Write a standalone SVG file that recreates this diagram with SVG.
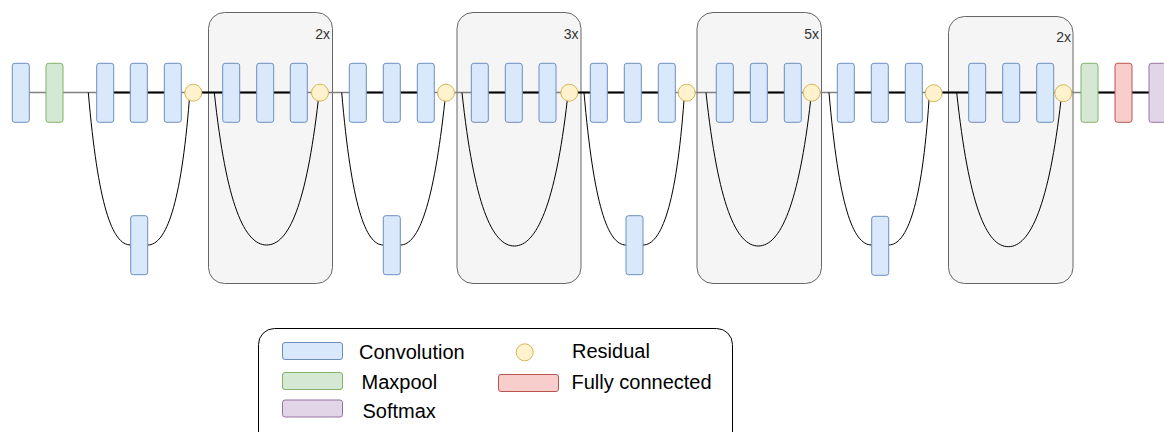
<svg xmlns="http://www.w3.org/2000/svg" width="1164" height="432" viewBox="0 0 1164 432">
<style>
.rep{fill:#f5f5f5;stroke:#666666;stroke-width:1}
.conv{fill:#dae8fc;stroke:#6c8ebf;stroke-width:1}
.pool{fill:#d5e8d4;stroke:#82b366;stroke-width:1}
.fc{fill:#f8cecc;stroke:#b85450;stroke-width:1}
.soft{fill:#e1d5e7;stroke:#9673a6;stroke-width:1}
.res{fill:#fff2cc;stroke:#d6b656;stroke-width:1}
.gray{stroke:#808080;stroke-width:1.5;fill:none}
.blk{stroke:#000000;stroke-width:2;fill:none}
.skip{stroke:#000000;stroke-width:1;fill:none}
.rt{font-family:"Liberation Sans",Arial,sans-serif;font-size:14px;fill:#333333;text-anchor:end}
.lt{font-family:"Liberation Sans",Arial,sans-serif;font-size:20px;fill:#000000}
</style>

<g id="repeat1"><rect class="rep" x="208.5" y="12.5" width="124" height="271" rx="16"/><text class="rt" x="330" y="39">2x</text></g>
<g id="repeat2"><rect class="rep" x="457" y="12.5" width="124" height="271" rx="16"/><text class="rt" x="578.5" y="39">3x</text></g>
<g id="repeat3"><rect class="rep" x="697" y="12.5" width="124.5" height="271" rx="16"/><text class="rt" x="819" y="39">5x</text></g>
<g id="repeat4"><rect class="rep" x="948.5" y="16.5" width="124.5" height="267" rx="16"/><text class="rt" x="1071" y="41.5">2x</text></g>

<g id="connectors">
<line class="gray" x1="29" y1="92.5" x2="1164" y2="92.5"/>
<path class="blk" d="M113.5,92.5H130.5M147.5,92.5H164.5M202,92.5H222.5M239.5,92.5H256.5M273.5,92.5H290.5M366.5,92.5H383.5M400.5,92.5H417.5M488.5,92.5H505.5M522.5,92.5H539M578,92.5H590.5M607.5,92.5H624.5M641.5,92.5H658.5M733.5,92.5H750.5M767.5,92.5H784.5M854.5,92.5H871.5M888.5,92.5H905.5M942,92.5H968.5M985.5,92.5H1002.5M1019.5,92.5H1036.5M1098,92.5H1115M1132,92.5H1149"/>
<path class="skip" d="M88.3,92.5C98,205 112,245 130.7,245M147.7,245C166,245 181,205 189.3,100"/>
<path class="skip" d="M341.7,92.5C351.4,205 365.4,245 383.3,245M400.3,245C418.6,245 433.6,205 445,100"/>
<path class="skip" d="M584,92.5C593.7,205 607.7,245 626,245M643,245C661.3,245 676.3,205 684,100"/>
<path class="skip" d="M829,92.5C838.7,205 852.7,245 871.7,245M888.7,245C907,245 922,205 929,100"/>
<path class="skip" d="M214.3,92.5C226.3,205 244.7,245 266.7,245C288.7,245 306.3,205 318.3,100"/>
<path class="skip" d="M462,92.5C474,205 492.3,246 514.3,246C536.3,246 555.3,205 567.3,100"/>
<path class="skip" d="M706,92.5C718,205 736.3,246 758.3,246C780.3,246 798.7,205 810.7,100"/>
<path class="skip" d="M956.7,92.5C968.7,205 986.3,246.7 1008.3,246.7C1030.3,246.7 1049,205 1061,100"/>
</g>

<g id="input-conv"><rect class="conv" x="12.3" y="63.3" width="17" height="59" rx="2.5"/></g>
<g id="maxpool1"><rect class="pool" x="46" y="63.3" width="17" height="59" rx="2.5"/></g>

<g id="stage1">
<rect class="conv" x="96.7" y="63.3" width="17" height="59" rx="2.5"/>
<rect class="conv" x="130.3" y="63.3" width="17" height="59" rx="2.5"/>
<rect class="conv" x="164.3" y="63.3" width="17" height="59" rx="2.5"/>
<rect class="conv" x="130.7" y="215.7" width="17" height="59" rx="2.5"/>
<circle class="res" cx="193.3" cy="92.7" r="8.5"/>
</g>
<g id="stage1-rep">
<rect class="conv" x="222.7" y="63.3" width="17" height="59" rx="2.5"/>
<rect class="conv" x="256.7" y="63.3" width="17" height="59" rx="2.5"/>
<rect class="conv" x="290.3" y="63.3" width="17" height="59" rx="2.5"/>
<circle class="res" cx="320" cy="92.7" r="8.5"/>
</g>

<g id="stage2">
<rect class="conv" x="349.3" y="63.3" width="17" height="59" rx="2.5"/>
<rect class="conv" x="383.3" y="63.3" width="17" height="59" rx="2.5"/>
<rect class="conv" x="417.3" y="63.3" width="17" height="59" rx="2.5"/>
<rect class="conv" x="383.3" y="215.7" width="17" height="59" rx="2.5"/>
<circle class="res" cx="446" cy="92.7" r="8.5"/>
</g>
<g id="stage2-rep">
<rect class="conv" x="471.3" y="63.3" width="17" height="59" rx="2.5"/>
<rect class="conv" x="505.3" y="63.3" width="17" height="59" rx="2.5"/>
<rect class="conv" x="539" y="63.3" width="17" height="59" rx="2.5"/>
<circle class="res" cx="569.3" cy="92.7" r="8.5"/>
</g>

<g id="stage3">
<rect class="conv" x="590.3" y="63.3" width="17" height="59" rx="2.5"/>
<rect class="conv" x="624.3" y="63.3" width="17" height="59" rx="2.5"/>
<rect class="conv" x="658.3" y="63.3" width="17" height="59" rx="2.5"/>
<rect class="conv" x="626" y="215.7" width="17" height="59" rx="2.5"/>
<circle class="res" cx="686.7" cy="92.7" r="8.5"/>
</g>
<g id="stage3-rep">
<rect class="conv" x="716.3" y="63.3" width="17" height="59" rx="2.5"/>
<rect class="conv" x="750.3" y="63.3" width="17" height="59" rx="2.5"/>
<rect class="conv" x="784.3" y="63.3" width="17" height="59" rx="2.5"/>
<circle class="res" cx="811.7" cy="92.7" r="8.5"/>
</g>

<g id="stage4">
<rect class="conv" x="837.3" y="63.3" width="17" height="59" rx="2.5"/>
<rect class="conv" x="871.3" y="63.3" width="17" height="59" rx="2.5"/>
<rect class="conv" x="905.3" y="63.3" width="17" height="59" rx="2.5"/>
<rect class="conv" x="871.7" y="216.3" width="17" height="59" rx="2.5"/>
<circle class="res" cx="933.7" cy="93.2" r="8.5"/>
</g>
<g id="stage4-rep">
<rect class="conv" x="968.7" y="63.3" width="17" height="59" rx="2.5"/>
<rect class="conv" x="1002.7" y="63.3" width="17" height="59" rx="2.5"/>
<rect class="conv" x="1036.7" y="63.3" width="17" height="59" rx="2.5"/>
<circle class="res" cx="1063.3" cy="93.2" r="8.5"/>
</g>

<g id="maxpool2"><rect class="pool" x="1081" y="63.3" width="17" height="59" rx="2.5"/></g>
<g id="fc"><rect class="fc" x="1115" y="63.3" width="17" height="59" rx="2.5"/></g>
<g id="softmax"><rect class="soft" x="1149" y="63.3" width="17" height="59" rx="2.5"/></g>

<g id="legend">
<rect x="258.5" y="328.5" width="474" height="125" rx="16" fill="#ffffff" stroke="#000000" stroke-width="1"/>
<rect class="conv" x="282.5" y="342.5" width="60" height="17" rx="2.5"/>
<text class="lt" x="359" y="358.5">Convolution</text>
<circle class="res" cx="524.7" cy="352.3" r="8.5"/>
<text class="lt" x="572" y="358">Residual</text>
<rect class="pool" x="282.5" y="372.5" width="60" height="17" rx="2.5"/>
<text class="lt" x="361.5" y="389">Maxpool</text>
<rect class="fc" x="498.5" y="374.5" width="60" height="17" rx="2.5"/>
<text class="lt" x="571.5" y="388.5">Fully connected</text>
<rect class="soft" x="282.5" y="400" width="60" height="17" rx="2.5"/>
<text class="lt" x="362.5" y="417.5">Softmax</text>
</g>
</svg>
